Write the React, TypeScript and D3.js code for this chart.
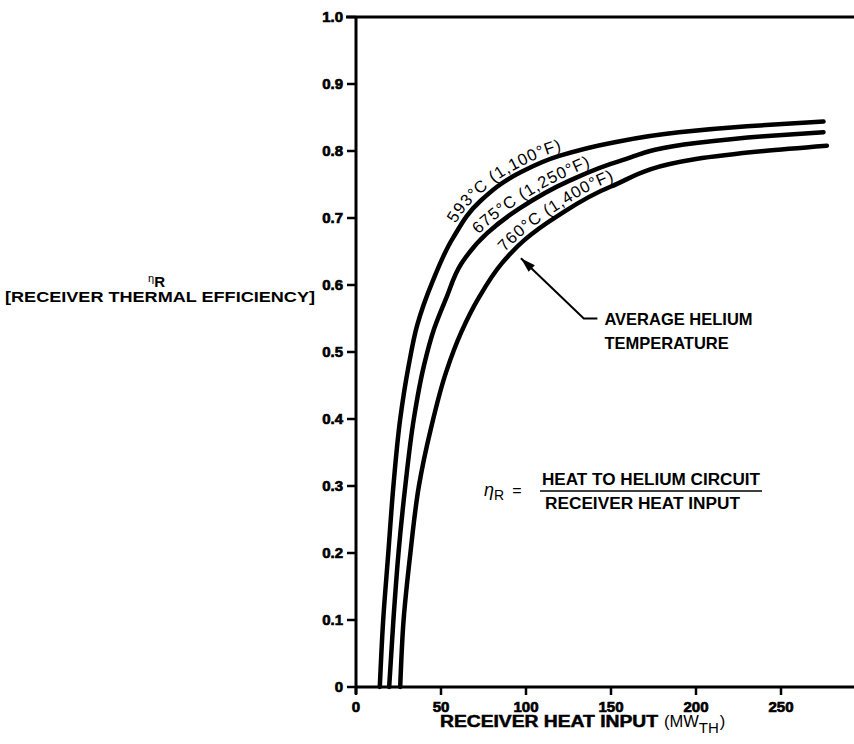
import React, { useEffect, useRef } from "react";
import * as d3 from "d3";

const W = 854;
const H = 744;
const FONT = "'Liberation Sans', Arial, Helvetica, sans-serif";

const xTickValues = [0, 50, 100, 150, 200, 250];
const xTickLabels = ["0", "50", "100", "150", "200", "250"];
const yTickValues = [0, 0.1, 0.2, 0.3, 0.4, 0.5, 0.6, 0.7, 0.8, 0.9, 1.0];
const yTickLabels = ["0", "0.1", "0.2", "0.3", "0.4", "0.5", "0.6", "0.7", "0.8", "0.9", "1.0"];

// Average helium temperature series
const tempC = ["593", "675", "760"];
const tempF = ["1,100", "1,250", "1,400"];

const heat593 = [14, 16, 19, 22, 26, 31, 36, 45, 57, 73, 96, 120, 150, 190, 230, 275];
const eff593 = [0, 0.1, 0.2, 0.3, 0.4, 0.48, 0.54, 0.605, 0.67, 0.725, 0.767, 0.793, 0.812, 0.828, 0.837, 0.844];

const heat675 = [19.5, 22, 25, 29, 34, 40, 46, 53, 62, 77, 96, 125, 155, 200, 240, 275];
const eff675 = [0, 0.1, 0.2, 0.3, 0.4, 0.48, 0.535, 0.58, 0.632, 0.677, 0.714, 0.755, 0.785, 0.812, 0.822, 0.828];

const heat760 = [26, 28, 32, 37, 44, 53, 62, 72, 86, 99, 118, 150, 200, 240, 277];
const eff760 = [0, 0.1, 0.2, 0.3, 0.385, 0.47, 0.53, 0.58, 0.633, 0.667, 0.702, 0.747, 0.788, 0.8, 0.808];

const seriesHeat = [heat593, heat675, heat760];
const seriesEff = [eff593, eff675, eff760];
const labelStartHeat = [58, 72, 87];

export default function App() {
  const ref = useRef<SVGSVGElement>(null);

  useEffect(() => {
    const svg = d3.select(ref.current);
    svg.selectAll("*").remove();

    const x = d3.scaleLinear().domain([0, 250]).range([356, 781]);
    const y = d3.scaleLinear().domain([0, 1]).range([687, 17]);

    const g = svg.append("g").attr("font-family", FONT).attr("fill", "#000");

    // axes frame
    g.append("line").attr("x1", x(0)).attr("x2", x(0)).attr("y1", y(0) + 7).attr("y2", y(1))
      .attr("stroke", "#000").attr("stroke-width", 3);
    g.append("line").attr("x1", x(0) - 10).attr("x2", W).attr("y1", y(1)).attr("y2", y(1))
      .attr("stroke", "#000").attr("stroke-width", 3.2);
    g.append("line").attr("x1", x(0)).attr("x2", W).attr("y1", y(0)).attr("y2", y(0))
      .attr("stroke", "#000").attr("stroke-width", 3);

    // y ticks
    yTickValues.forEach((v, i) => {
      g.append("line").attr("x1", x(0) - 9).attr("x2", x(0)).attr("y1", y(v)).attr("y2", y(v))
        .attr("stroke", "#000").attr("stroke-width", 2.5);
      g.append("text").attr("x", x(0) - 13).attr("y", y(v)).attr("dy", "0.36em")
        .attr("text-anchor", "end").attr("font-weight", "bold").attr("font-size", 15)
        .attr("stroke", "#000").attr("stroke-width", 0.7)
        .text(yTickLabels[i]);
    });

    // x ticks
    xTickValues.forEach((v, i) => {
      g.append("line").attr("x1", x(v)).attr("x2", x(v)).attr("y1", y(0)).attr("y2", y(0) + 8)
        .attr("stroke", "#000").attr("stroke-width", 2.5);
      g.append("text").attr("x", x(v)).attr("y", y(0) + 20).attr("dy", "0.36em")
        .attr("text-anchor", "middle").attr("font-weight", "bold").attr("font-size", 15)
        .attr("stroke", "#000").attr("stroke-width", 0.7)
        .text(xTickLabels[i]);
    });

    // x title
    g.append("text").attr("x", 440).attr("y", 727).attr("font-size", 16).attr("font-weight", "bold")
      .attr("stroke", "#000").attr("stroke-width", 0.5)
      .attr("textLength", 218).attr("lengthAdjust", "spacingAndGlyphs")
      .text("RECEIVER HEAT INPUT");
    const xt = g.append("text").attr("x", 664).attr("y", 727).attr("font-size", 16.5);
    xt.append("tspan").text("(MW");
    xt.append("tspan").attr("font-size", 15).attr("dy", 6).text("TH");
    xt.append("tspan").attr("dy", -6).attr("dx", 1).text(")");

    // y title
    const yt = g.append("text").attr("x", 148).attr("y", 287);
    yt.append("tspan").attr("font-size", 11).attr("dy", -5).text("η");
    yt.append("tspan").attr("font-size", 15).attr("font-weight", "bold").attr("dy", 5).text("R");
    g.append("text").attr("x", 5).attr("y", 302).attr("font-size", 14).attr("font-weight", "bold")
      .attr("textLength", 310).attr("lengthAdjust", "spacingAndGlyphs")
      .text("[RECEIVER THERMAL EFFICIENCY]");

    // curves
    const line = d3.line<[number, number]>()
      .x((d) => x(d[0]))
      .y((d) => y(d[1]))
      .curve(d3.curveMonotoneY);

    const defs = svg.append("defs");

    seriesHeat.forEach((hs, si) => {
      const pts: [number, number][] = hs.map((h, k) => [h, seriesEff[si][k]]);
      const p = g.append("path").attr("d", line(pts))
        .attr("fill", "none").attr("stroke", "#000").attr("stroke-width", 4.5)
        .attr("stroke-linecap", "round");
      const node = p.node() as SVGPathElement;
      const total = node.getTotalLength();
      const off = 5;
      const samples: [number, number][] = [];
      const N = 300;
      for (let k = 0; k <= N; k++) {
        const l = (total * k) / N;
        const a = node.getPointAtLength(Math.max(0, l - 1));
        const b = node.getPointAtLength(Math.min(total, l + 1));
        const c = node.getPointAtLength(l);
        const dx = b.x - a.x, dy = b.y - a.y;
        const len = Math.hypot(dx, dy) || 1;
        samples.push([c.x + (dy / len) * off, c.y - (dx / len) * off]);
      }
      const id = `lbl-path-${si}`;
      defs.append("path").attr("id", id)
        .attr("d", d3.line().curve(d3.curveLinear)(samples));
      const target = x(labelStartHeat[si]);
      let startLen = 0;
      let acc = 0;
      for (let k = 1; k < samples.length; k++) {
        acc += Math.hypot(samples[k][0] - samples[k - 1][0], samples[k][1] - samples[k - 1][1]);
        if (samples[k][0] >= target) { startLen = acc; break; }
      }
      g.append("text").attr("font-size", 16.5).attr("letter-spacing", 0.9)
        .append("textPath").attr("href", `#${id}`).attr("startOffset", startLen)
        .text(`${tempC[si]}°C  (${tempF[si]}°F)`);
    });

    // annotation arrow
    const tip: [number, number] = [x(97), y(0.64)];
    const elbow: [number, number] = [x(134), y(0.55)];
    const end: [number, number] = [x(142), y(0.55)];
    g.append("path").attr("d", d3.line()([tip, elbow, end]))
      .attr("fill", "none").attr("stroke", "#000").attr("stroke-width", 2);
    const ang = Math.atan2(elbow[1] - tip[1], elbow[0] - tip[0]);
    const ah = 15, aw = 4.5;
    const bx = tip[0] + Math.cos(ang) * ah, by = tip[1] + Math.sin(ang) * ah;
    const head: [number, number][] = [
      tip,
      [bx - Math.sin(ang) * aw, by + Math.cos(ang) * aw],
      [bx + Math.sin(ang) * aw, by - Math.cos(ang) * aw],
    ];
    g.append("path").attr("d", d3.line()(head) + "Z").attr("fill", "#000");

    g.append("text").attr("x", end[0] + 7).attr("y", 325).attr("font-size", 16.5).attr("font-weight", "bold")
      .text("AVERAGE HELIUM");
    g.append("text").attr("x", end[0] + 7).attr("y", 349).attr("font-size", 16.5).attr("font-weight", "bold")
      .text("TEMPERATURE");

    // formula
    const f = g.append("text").attr("x", 484).attr("y", 496);
    f.append("tspan").attr("font-size", 18).attr("font-style", "italic").text("η");
    f.append("tspan").attr("font-size", 14).attr("dy", 4).text("R");
    f.append("tspan").attr("font-size", 16).attr("dy", -4).attr("dx", 8).text("=");
    g.append("text").attr("x", 542).attr("y", 485).attr("font-size", 16).attr("font-weight", "bold")
      .attr("textLength", 218).attr("lengthAdjust", "spacingAndGlyphs").text("HEAT TO HELIUM CIRCUIT");
    g.append("line").attr("x1", 540).attr("x2", 762).attr("y1", 491).attr("y2", 491)
      .attr("stroke", "#000").attr("stroke-width", 1.5);
    g.append("text").attr("x", 545).attr("y", 509).attr("font-size", 16).attr("font-weight", "bold")
      .attr("textLength", 195).attr("lengthAdjust", "spacingAndGlyphs").text("RECEIVER HEAT INPUT");
  }, []);

  return (
    <svg
      ref={ref}
      width={W}
      height={H}
      style={{ position: "absolute", left: 0, top: 0, display: "block", background: "#fff" }}
    />
  );
}
